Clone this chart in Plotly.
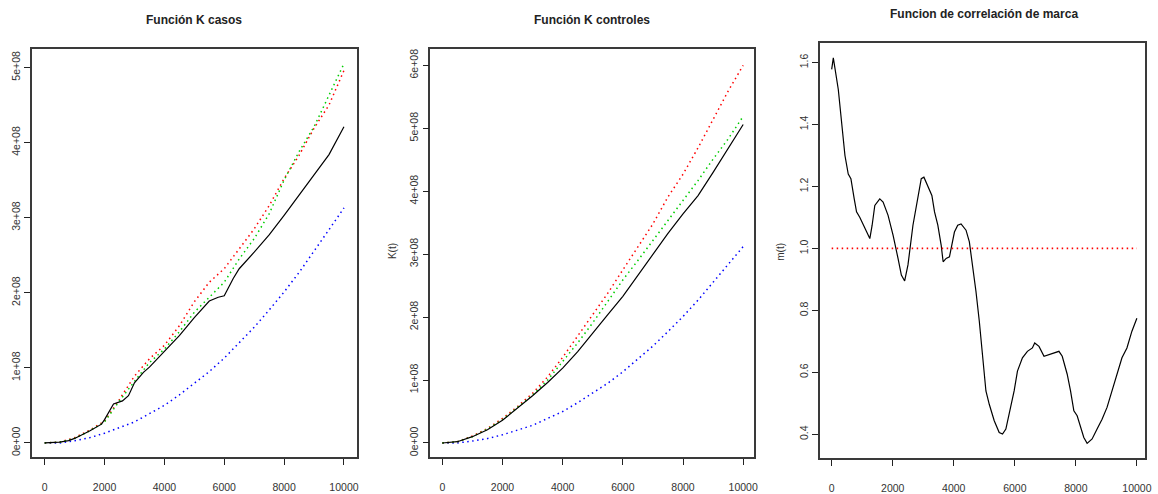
import plotly.graph_objects as go

# ---------------- data ----------------
r_grid = [0, 500, 1000, 1500, 2000, 2500, 3000, 3500, 4000, 4500, 5000,
          5500, 6000, 6500, 7000, 7500, 8000, 8500, 9000, 9500, 10000]

# Panel 1: Funcion K casos (values in units of 1e8)
casos_obs_r = [0, 500, 800, 1000, 1500, 1900, 2000, 2200, 2300, 2600, 2800, 3000,
               3300, 3500, 4000, 4500, 5000, 5500, 5800, 6000, 6300, 6500, 7000,
               7500, 8000, 8500, 9000, 9500, 10000]
casos_obs = [0, 0.01, 0.03, 0.06, 0.16, 0.25, 0.31, 0.45, 0.52, 0.56, 0.63, 0.80,
             0.94, 1.01, 1.22, 1.43, 1.67, 1.89, 1.94, 1.96, 2.19, 2.32, 2.54,
             2.77, 3.03, 3.30, 3.57, 3.84, 4.21]
casos_hi = [0, 0.01, 0.07, 0.17, 0.29, 0.58, 0.89, 1.12, 1.30, 1.56, 1.88,
            2.14, 2.32, 2.59, 2.85, 3.16, 3.52, 3.83, 4.19, 4.50, 4.96]
casos_mid = [0, 0.01, 0.06, 0.16, 0.28, 0.56, 0.82, 1.07, 1.25, 1.48, 1.74,
             1.94, 2.14, 2.45, 2.72, 3.05, 3.50, 3.88, 4.21, 4.63, 5.05]
casos_theo = [0, 0.00, 0.03, 0.07, 0.13, 0.20, 0.28, 0.39, 0.50, 0.64, 0.79,
              0.95, 1.13, 1.33, 1.54, 1.77, 2.01, 2.27, 2.55, 2.84, 3.13]

# Panel 2: Funcion K controles (values in units of 1e8)
ctrl_obs = [0, 0.02, 0.10, 0.21, 0.36, 0.55, 0.75, 0.96, 1.19, 1.45, 1.75,
            2.04, 2.33, 2.67, 3.01, 3.33, 3.64, 3.93, 4.30, 4.67, 5.06]
ctrl_hi = [0, 0.02, 0.11, 0.23, 0.39, 0.58, 0.79, 1.05, 1.36, 1.70, 2.02,
           2.38, 2.75, 3.12, 3.48, 3.91, 4.27, 4.69, 5.14, 5.59, 6.00]
ctrl_mid = [0, 0.02, 0.10, 0.22, 0.37, 0.56, 0.76, 1.00, 1.29, 1.59, 1.91,
            2.25, 2.59, 2.90, 3.22, 3.54, 3.85, 4.17, 4.51, 4.83, 5.19]
ctrl_theo = [0, 0.00, 0.03, 0.07, 0.13, 0.20, 0.28, 0.39, 0.50, 0.64, 0.79,
             0.95, 1.13, 1.33, 1.54, 1.77, 2.01, 2.27, 2.55, 2.84, 3.12]

# Panel 3: Funcion de correlacion de marca
mark_r = [0, 54, 217, 326, 435, 543, 630, 739, 815, 924, 1087, 1250, 1326, 1413,
          1576, 1685, 1848, 2011, 2174, 2283, 2391, 2500, 2663, 2826, 2935, 3022,
          3152, 3283, 3370, 3478, 3587, 3652, 3750, 3859, 4022, 4130, 4239, 4402,
          4511, 4620, 4728, 4837, 4946, 5054, 5163, 5326, 5489, 5598, 5707, 5870,
          5978, 6087, 6250, 6413, 6576, 6652, 6793, 6957, 7120, 7283, 7446, 7554,
          7717, 7826, 7935, 8043, 8152, 8261, 8370, 8533, 8696, 8859, 9022, 9185,
          9348, 9511, 9674, 9837, 10000]
mark_m = [1.578, 1.615, 1.513, 1.406, 1.300, 1.240, 1.225, 1.160, 1.118, 1.100,
          1.064, 1.032, 1.075, 1.139, 1.160, 1.150, 1.107, 1.043, 0.968, 0.914,
          0.895, 0.947, 1.075, 1.171, 1.225, 1.230, 1.203, 1.171, 1.118, 1.075,
          1.011, 0.957, 0.968, 0.973, 1.053, 1.075, 1.079, 1.059, 1.021, 0.947,
          0.861, 0.765, 0.658, 0.540, 0.497, 0.444, 0.406, 0.401, 0.417, 0.487,
          0.540, 0.604, 0.647, 0.668, 0.679, 0.695, 0.684, 0.652, 0.658, 0.663,
          0.668, 0.652, 0.594, 0.540, 0.476, 0.460, 0.422, 0.390, 0.371, 0.385,
          0.417, 0.449, 0.487, 0.540, 0.594, 0.647, 0.679, 0.733, 0.775]
ref_r = [0, 10000]
ref_m = [1.0, 1.0]

titles = ["Función K casos", "Función K controles", "Funcion de correlación de marca"]
x_ticks = [0, 2000, 4000, 6000, 8000, 10000]
x_labels = ["0", "2000", "4000", "6000", "8000", "10000"]
k1_ticks = [0, 1, 2, 3, 4, 5]
k1_labels = ["0e+00", "1e+08", "2e+08", "3e+08", "4e+08", "5e+08"]
k2_ticks = [0, 1, 2, 3, 4, 5, 6]
k2_labels = ["0e+00", "1e+08", "2e+08", "3e+08", "4e+08", "5e+08", "6e+08"]
m_ticks = [0.4, 0.6, 0.8, 1.0, 1.2, 1.4, 1.6]
m_labels = ["0.4", "0.6", "0.8", "1.0", "1.2", "1.4", "1.6"]

# ---------------- figure ----------------
W, H = 1158, 494
FONT = "Liberation Sans, Arial, sans-serif"
RED, GREEN, BLUE = "#FF0000", "#00CD00", "#0000FF"
DOT = "1.5px,3.5px"

fig = go.Figure()

def line(x, y, color, dash, width, ax):
    fig.add_trace(go.Scatter(x=x, y=y, mode="lines", xaxis="x" + ax, yaxis="y" + ax,
                             line=dict(color=color, dash=dash, width=width),
                             showlegend=False, hoverinfo="skip"))

# panel 1
line(r_grid, casos_theo, BLUE, DOT, 1.5, "")
line(r_grid, casos_hi, RED, DOT, 1.5, "")
line(r_grid, casos_mid, GREEN, DOT, 1.5, "")
line(casos_obs_r, casos_obs, "#000000", "solid", 1.2, "")
# panel 2
line(r_grid, ctrl_theo, BLUE, DOT, 1.5, "2")
line(r_grid, ctrl_hi, RED, DOT, 1.5, "2")
line(r_grid, ctrl_mid, GREEN, DOT, 1.5, "2")
line(r_grid, ctrl_obs, "#000000", "solid", 1.2, "2")
# panel 3
line(mark_r, mark_m, "#000000", "solid", 1.2, "3")
line(ref_r, ref_m, RED, DOT, 1.8, "3")

def px_x(a, b):
    return [a / W, b / W]

def px_y(top, bottom):
    return [(H - bottom) / H, (H - top) / H]

axis_common = dict(showline=True, linecolor="#3a3a3a", linewidth=1.5, mirror=True,
                   showgrid=False, zeroline=False, ticks="outside", ticklen=6,
                   tickwidth=1.2, tickcolor="#222",
                   tickfont=dict(family=FONT, size=10.5, color="#333"))

fig.update_layout(
    width=W, height=H, margin=dict(l=0, r=0, t=0, b=0),
    paper_bgcolor="white", plot_bgcolor="white",
    xaxis=dict(domain=px_x(32, 359), range=[-430, 10430], tickvals=x_ticks,
               ticktext=x_labels, ticklabelstandoff=13, anchor="y", **axis_common),
    yaxis=dict(domain=px_y(49, 460), range=[-0.19, 5.25], tickvals=k1_ticks,
               ticktext=k1_labels, tickangle=-90, anchor="x", **axis_common),
    xaxis2=dict(domain=px_x(433, 759), range=[-396, 10373], tickvals=x_ticks,
                ticktext=x_labels, ticklabelstandoff=13, anchor="y2", **axis_common),
    yaxis2=dict(domain=px_y(49, 460), range=[-0.226, 6.264], tickvals=k2_ticks,
                ticktext=k2_labels, tickangle=-90, anchor="x2", **axis_common),
    xaxis3=dict(domain=px_x(825, 1152), range=[-382, 10267], tickvals=x_ticks,
                ticktext=x_labels, ticklabelstandoff=13, anchor="y3", **axis_common),
    yaxis3=dict(domain=px_y(43, 461), range=[0.323, 1.664], tickvals=m_ticks,
                ticktext=m_labels, tickangle=-90, anchor="x3", **axis_common),
)

title_pos = [(195.5, 20), (596, 20), (990, 14)]
for t, (cx, cy) in zip(titles, title_pos):
    fig.add_annotation(x=cx / W, y=(H - cy) / H, xref="paper", yref="paper",
                       xanchor="center", yanchor="middle",
                       text="<b>" + t + "</b>", showarrow=False,
                       font=dict(family=FONT, size=12, color="#222"))

for t, (cx, cy) in zip(["K(t)", "m(t)"], [(395, 253), (785, 253)]):
    fig.add_annotation(x=cx / W, y=(H - cy) / H, xref="paper", yref="paper",
                       xanchor="center", yanchor="middle",
                       text=t, textangle=-90, showarrow=False,
                       font=dict(family=FONT, size=10, color="#333"))

fig.write_html(
    "out.html",
    post_script=(
        "document.body.style.margin='0';"
        "document.body.style.overflow='hidden';"
        "var s=document.createElement('style');"
        "s.textContent='.modebar-container{display:none !important;}';"
        "document.head.appendChild(s);"
    ),
)
